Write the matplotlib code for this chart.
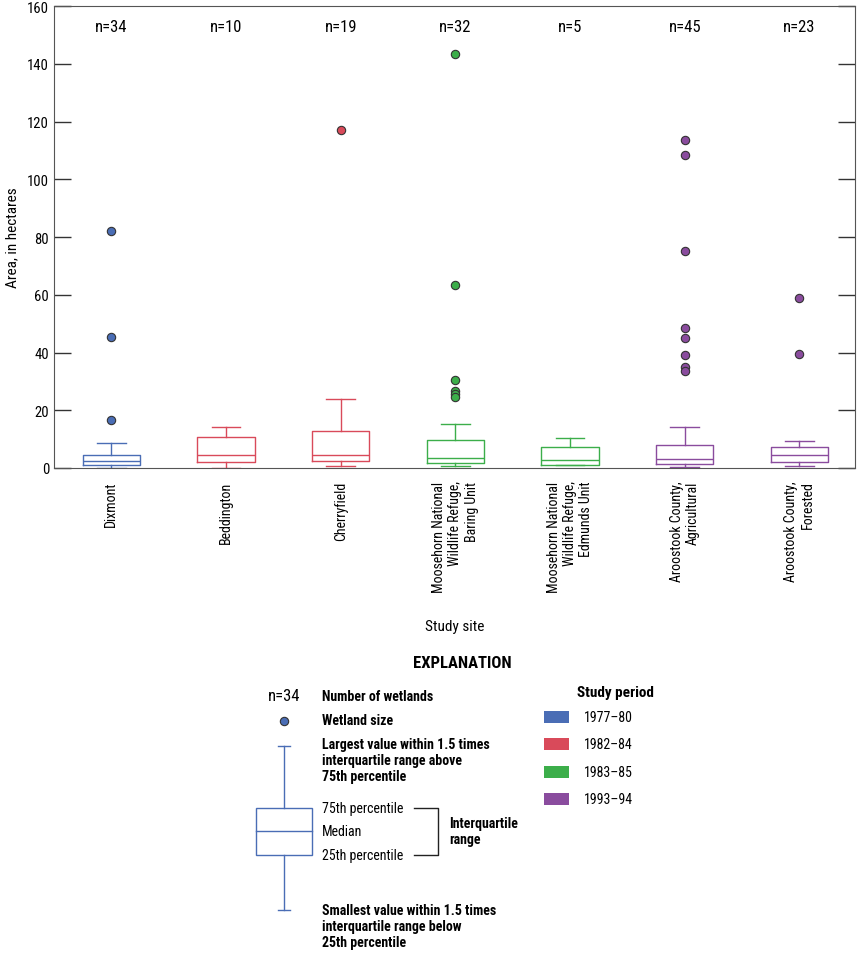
import matplotlib.pyplot as plt
from matplotlib.patches import Rectangle

plt.rcParams['font.family'] = ['Roboto Condensed', 'Archivo Narrow', 'DejaVu Sans']

# Study sites and box statistics (hectares)
sites = ['Dixmont', 'Beddington', 'Cherryfield',
         'Moosehorn National\nWildlife Refuge,\nBaring Unit',
         'Moosehorn National\nWildlife Refuge,\nEdmunds Unit',
         'Aroostook County,\nAgricultural', 'Aroostook County,\nForested']
counts = [34, 10, 19, 32, 5, 45, 23]
whislo = [0.1, 0.1, 0.6, 0.6, 1.2, 0.2, 0.6]
q1 = [0.9, 2.1, 2.4, 1.7, 1.2, 1.3, 2.0]
med = [2.4, 4.6, 4.6, 3.6, 2.9, 3.2, 4.4]
q3 = [4.6, 10.7, 12.7, 9.7, 7.2, 7.9, 7.4]
whishi = [8.5, 14.3, 23.9, 15.1, 10.5, 14.3, 9.5]
outliers = [[82, 45.5, 16.5], [], [117],
            [143.5, 63.5, 30.5, 26.5, 25.5, 24.5], [],
            [113.5, 108.5, 75, 48.5, 45, 39, 35, 33.5], [59, 39.5]]
periods = ['1977–80', '1982–84', '1983–85', '1993–94']
period_colors = ['#4a6db5', '#d94a5a', '#3cae4a', '#8a4c9e']
site_period = [0, 1, 1, 2, 2, 3, 3]

fig = plt.figure(figsize=(8.58, 9.54), dpi=100)
ax = fig.add_axes([54 / 858, 1 - 469 / 954, 800.5 / 858, 462 / 954])

for i in range(len(sites)):
    c = period_colors[site_period[i]]
    stats = [dict(med=med[i], q1=q1[i], q3=q3[i], whislo=whislo[i],
                  whishi=whishi[i], fliers=outliers[i])]
    ax.bxp(stats, positions=[i + 1], widths=0.5, showfliers=True,
           boxprops=dict(color=c, lw=1), medianprops=dict(color=c, lw=1),
           whiskerprops=dict(color=c, lw=1), capprops=dict(color=c, lw=1),
           flierprops=dict(marker='o', markerfacecolor=c, markeredgecolor='#333333',
                           markersize=6, markeredgewidth=0.8, linestyle='none'))
    ax.text(i + 1, 153, 'n=%d' % counts[i], ha='center', va='center', fontsize=12)

ax.set_xlim(0.5, 7.48)
ax.set_ylim(0, 160)
ax.set_yticks(range(0, 161, 20))
ax.set_xticks(range(1, 8))
ax.set_xticklabels(sites, rotation=90, ha='center', va='top', multialignment='right',
                   fontsize=10)
ax.tick_params(axis='x', length=0, pad=9)
ax.tick_params(axis='y', direction='in', length=12, right=True, labelsize=10.5,
               color='#333333', width=1)
for s in ax.spines.values():
    s.set_color('#555555')
ax.set_ylabel('Area, in hectares', fontsize=11, labelpad=6)
ax.set_xlabel('Study site', fontsize=11, labelpad=20)

# Explanation area drawn in pixel coordinates
lg = fig.add_axes([0, 0, 1, 1])
lg.set_xlim(0, 858)
lg.set_ylim(954, 0)
lg.axis('off')
bc = period_colors[0]
lg.text(462, 664, 'EXPLANATION', ha='center', va='center', fontsize=12, fontweight='bold')
lg.text(284, 697, 'n=34', ha='center', va='center', fontsize=12)
lg.plot([284], [721.5], 'o', color=bc, mec='#333333', ms=6, mew=0.8)
lg.plot([284, 284], [746.5, 808.5], color=bc, lw=1)
lg.plot([284, 284], [856, 911], color=bc, lw=1)
lg.plot([278, 290], [746.5, 746.5], color=bc, lw=1)
lg.plot([278, 290], [911, 911], color=bc, lw=1)
lg.add_patch(Rectangle((256, 808.5), 56, 47.5, fill=False, ec=bc, lw=1))
lg.plot([256, 312], [832.3, 832.3], color=bc, lw=1)

bold = dict(fontsize=10, fontweight='bold', ha='left', va='center')
lg.text(322, 697, 'Number of wetlands', **bold)
lg.text(322, 721.5, 'Wetland size', **bold)
lg.text(322, 738, 'Largest value within 1.5 times\ninterquartile range above\n75th percentile',
        fontsize=10, fontweight='bold', ha='left', va='top', linespacing=1.2)
lg.text(322, 904, 'Smallest value within 1.5 times\ninterquartile range below\n25th percentile',
        fontsize=10, fontweight='bold', ha='left', va='top', linespacing=1.2)
lg.text(322, 809, '75th percentile', fontsize=10, ha='left', va='center')
lg.text(322, 832.3, 'Median', fontsize=10, ha='left', va='center')
lg.text(322, 856, '25th percentile', fontsize=10, ha='left', va='center')
lg.plot([414, 438, 438, 414], [809, 809, 856, 856], color='#222222', lw=1)
lg.text(449, 832, 'Interquartile\nrange', fontsize=10, fontweight='bold', ha='left',
        va='center', linespacing=1.2)

lg.text(615, 693, 'Study period', fontsize=11, fontweight='bold', ha='center', va='center')
for j, p in enumerate(periods):
    y = 718 + j * 27.3
    lg.add_patch(Rectangle((544, y - 6), 25, 12, fc=period_colors[j], ec='none'))
    lg.text(584, y, p, fontsize=10, ha='left', va='center')

fig.savefig('out.png', dpi=100)
